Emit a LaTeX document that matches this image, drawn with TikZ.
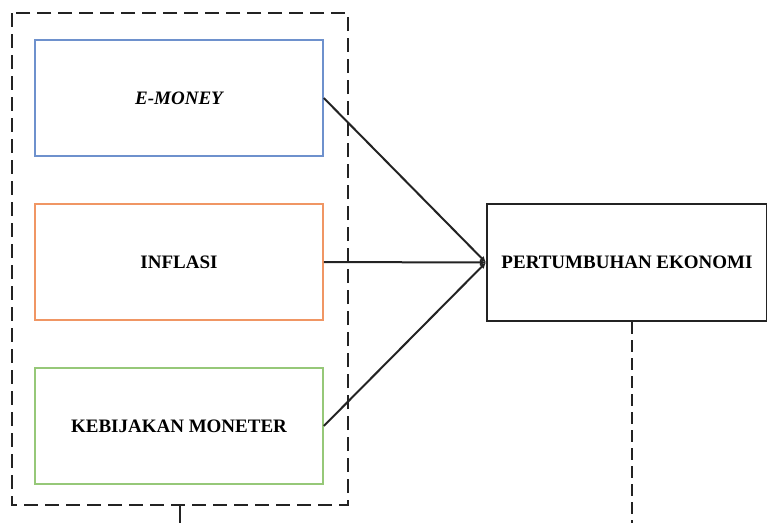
\documentclass[tikz,border=0pt]{standalone}
\usepackage{fontspec}
\setmainfont{Liberation Serif}
\usetikzlibrary{arrows.meta}
\definecolor{cblue}{RGB}{110,145,205}
\definecolor{corange}{RGB}{240,150,100}
\definecolor{cgreen}{RGB}{150,200,120}
\definecolor{cdark}{RGB}{35,35,35}
\tikzset{
  varbox/.style={draw, line width=1.6pt, minimum width=288pt, minimum height=116pt, inner sep=0pt, font=\fontsize{19}{21}\selectfont\bfseries},
  depbox/.style={draw=cdark, line width=2.2pt, minimum width=280pt, minimum height=117pt, inner sep=0pt, font=\fontsize{19}{21}\selectfont\bfseries},
  grp/.style={draw=cdark, line width=2.6pt, dash pattern=on 14pt off 7pt},
  vline/.style={draw=cdark, line width=2.4pt, dash pattern=on 12pt off 6pt},
  link/.style={draw=cdark, line width=2pt, -{Latex[length=6pt,width=6pt]}}
}
\begin{document}
\begin{tikzpicture}[x=1pt,y=-1pt]
\useasboundingbox (0,0) rectangle (767,523);
\fill[white] (0,0) rectangle (767,523);
\node[varbox, draw=cblue] (em) at (179,98) {\itshape E-MONEY};
\node[varbox, draw=corange] (inf) at (179,262) {INFLASI};
\node[varbox, draw=cgreen] (kb) at (179,426) {KEBIJAKAN MONETER};
\node[depbox] (pe) at (627,262.5) {PERTUMBUHAN EKONOMI};
\coordinate (g1) at (12,13);
\coordinate (g2) at (348,505);
\draw[grp] (g1) rectangle (g2);
\coordinate (gb) at (180,505);
\coordinate (gbe) at (180,523);
\draw[cdark, line width=2.4pt] (gb) -- (gbe);
\coordinate (pb) at (632,523);
\draw[vline] (pe.south -| pb) -- (pb);
\draw[link] (em.east) -- (pe.west);
\draw[link] (inf.east) -- (pe.west);
\draw[link] (kb.east) -- (pe.west);
\end{tikzpicture}
\end{document}
